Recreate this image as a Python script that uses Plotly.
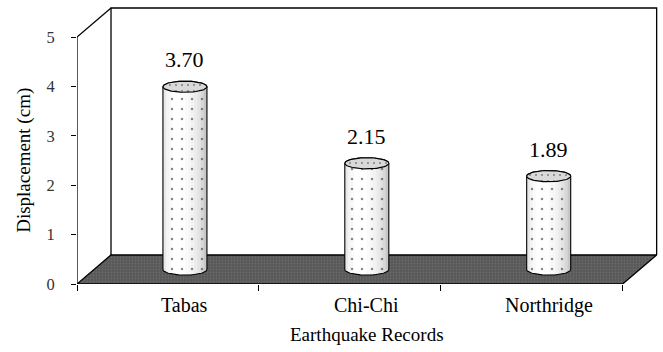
import numpy as np
import plotly.graph_objects as go

# ---- data -------------------------------------------------------------
records = ["Tabas", "Chi-Chi", "Northridge"]
displacement = [3.70, 2.15, 1.89]          # cm
value_labels = ["3.70", "2.15", "1.89"]
y_ticks = [0, 1, 2, 3, 4, 5]

# ---- pseudo-3D geometry (in axis units) ------------------------------
FONT = "Liberation Serif, Times New Roman, serif"
DX, DY = 0.187, 0.587      # depth offset of the back wall
RX, RY = 0.121, 0.113      # cylinder radius as seen on screen
Y_TOP = max(y_ticks)
n = len(records)
base = DY / 2              # cylinders stand at mid depth of the floor

fig = go.Figure()

# floor
fig.add_trace(go.Scatter(
    x=[0, n, n + DX, DX, 0], y=[0, 0, DY, DY, 0],
    mode="lines", fill="toself", fillcolor="#5a5a5a",
    fillpattern=dict(shape=".", fgcolor="#7a7a7a", bgcolor="#585858",
                     size=3, solidity=0.3),
    line=dict(color="black", width=1.3),
    hoverinfo="skip", showlegend=False))

th_up = np.linspace(np.pi, 0, 48)
th_dn = np.linspace(0, -np.pi, 48)
th_full = np.linspace(0, 2 * np.pi, 97)

centers = [i + 0.5 + DX / 2 for i in range(n)]

# cylinder bodies
for cx, v in zip(centers, displacement):
    top = base + v
    xs = list(cx + RX * np.cos(th_up)) + list(cx + RX * np.cos(th_dn))
    ys = list(top + RY * np.sin(th_up)) + list(base + RY * np.sin(th_dn))
    fig.add_trace(go.Scatter(
        x=xs + [xs[0]], y=ys + [ys[0]], mode="lines", fill="toself",
        fillcolor="white",
        fillpattern=dict(shape=".", fgcolor="#111111", bgcolor="white",
                         size=10, solidity=0.05),
        line=dict(width=0), hoverinfo="skip", showlegend=False))

# shading strips across each cylinder
N_STRIPS = 14
for k in range(N_STRIPS):
    u0 = -1 + 2 * k / N_STRIPS
    u1 = -1 + 2 * (k + 1) / N_STRIPS
    um = (u0 + u1) / 2
    phi = np.arcsin(um)
    alpha = min(0.42, 0.32 * (1 - np.cos(phi + 0.3)))
    if alpha < 0.01:
        continue
    xs, ys = [], []
    for cx, v in zip(centers, displacement):
        top = base + v
        uu = np.linspace(u0, u1, 4)
        bx = list(cx + RX * uu)
        by = list(base - RY * np.sqrt(np.clip(1 - uu ** 2, 0, 1)))
        xs += bx + [cx + RX * u1, cx + RX * u0, bx[0], None]
        ys += by + [top, top, by[0], None]
    fig.add_trace(go.Scatter(
        x=xs, y=ys, mode="lines", fill="toself",
        fillcolor=f"rgba(60,60,60,{alpha:.3f})", line=dict(width=0),
        hoverinfo="skip", showlegend=False))

# outlines and top caps
for cx, v in zip(centers, displacement):
    top = base + v
    xs = list(cx + RX * np.cos(th_up)) + list(cx + RX * np.cos(th_dn))
    ys = list(top + RY * np.sin(th_up)) + list(base + RY * np.sin(th_dn))
    fig.add_trace(go.Scatter(
        x=xs + [xs[0]], y=ys + [ys[0]], mode="lines",
        line=dict(color="black", width=1.1),
        hoverinfo="skip", showlegend=False))
    fig.add_trace(go.Scatter(
        x=list(cx + RX * np.cos(th_full)), y=list(top + RY * np.sin(th_full)),
        mode="lines", fill="toself", fillcolor="#d6d6d6",
        fillpattern=dict(shape=".", fgcolor="#333333", bgcolor="#d9d9d9",
                         size=6, solidity=0.1),
        line=dict(color="black", width=1.2),
        hoverinfo="skip", showlegend=False))

# value labels
for cx, v, lab in zip(centers, displacement, value_labels):
    fig.add_annotation(x=cx, y=base + v, text=lab, showarrow=False,
                       yanchor="middle", yshift=27,
                       font=dict(family=FONT, size=22, color="black"))

# category labels and axis titles
for cx, name in zip(centers, records):
    fig.add_annotation(x=cx, xref="x", y=-0.075, yref="paper", text=name,
                       showarrow=False, yanchor="middle",
                       font=dict(family=FONT, size=20, color="black"))
fig.add_annotation(x=(n / 2) + DX / 2, xref="x", y=-0.182, yref="paper",
                   text="Earthquake Records", showarrow=False,
                   yanchor="middle",
                   font=dict(family=FONT, size=19, color="black"))
fig.add_annotation(x=-0.091, xref="paper", y=0.44, yref="paper",
                   text="Displacement (cm)", textangle=-90, showarrow=False,
                   xanchor="center", yanchor="middle",
                   font=dict(family=FONT, size=19, color="black"))

# walls
line_style = dict(color="black", width=1.3)
fig.add_shape(type="line", x0=0, y0=0, x1=0, y1=Y_TOP, line=line_style,
              layer="above")
fig.add_shape(type="line", x0=0, y0=Y_TOP, x1=DX, y1=Y_TOP + DY,
              line=line_style, layer="below")
fig.add_shape(type="path",
              path=(f"M {DX},{DY} L {DX},{Y_TOP + DY} "
                    f"L {n + DX},{Y_TOP + DY} L {n + DX},{DY}"),
              line=line_style, layer="below")

fig.update_layout(
    width=663, height=352,
    margin=dict(l=77, r=4, t=4, b=68),
    paper_bgcolor="white", plot_bgcolor="white",
    showlegend=False,
    xaxis=dict(range=[0, 3.2], tickvals=list(range(n + 1)),
               ticks="outside", ticklen=6, tickcolor="black", tickwidth=1.2,
               showticklabels=False, showgrid=False, zeroline=False,
               showline=False, fixedrange=True),
    yaxis=dict(range=[0, 5.668], tickvals=y_ticks,
               ticks="outside", ticklen=5, tickcolor="black", tickwidth=1.2,
               ticklabelstandoff=13,
               tickfont=dict(family=FONT, size=16.5, color="#333333"),
               showgrid=False, zeroline=False, showline=False,
               fixedrange=True),
)

fig.write_html("out.html")
